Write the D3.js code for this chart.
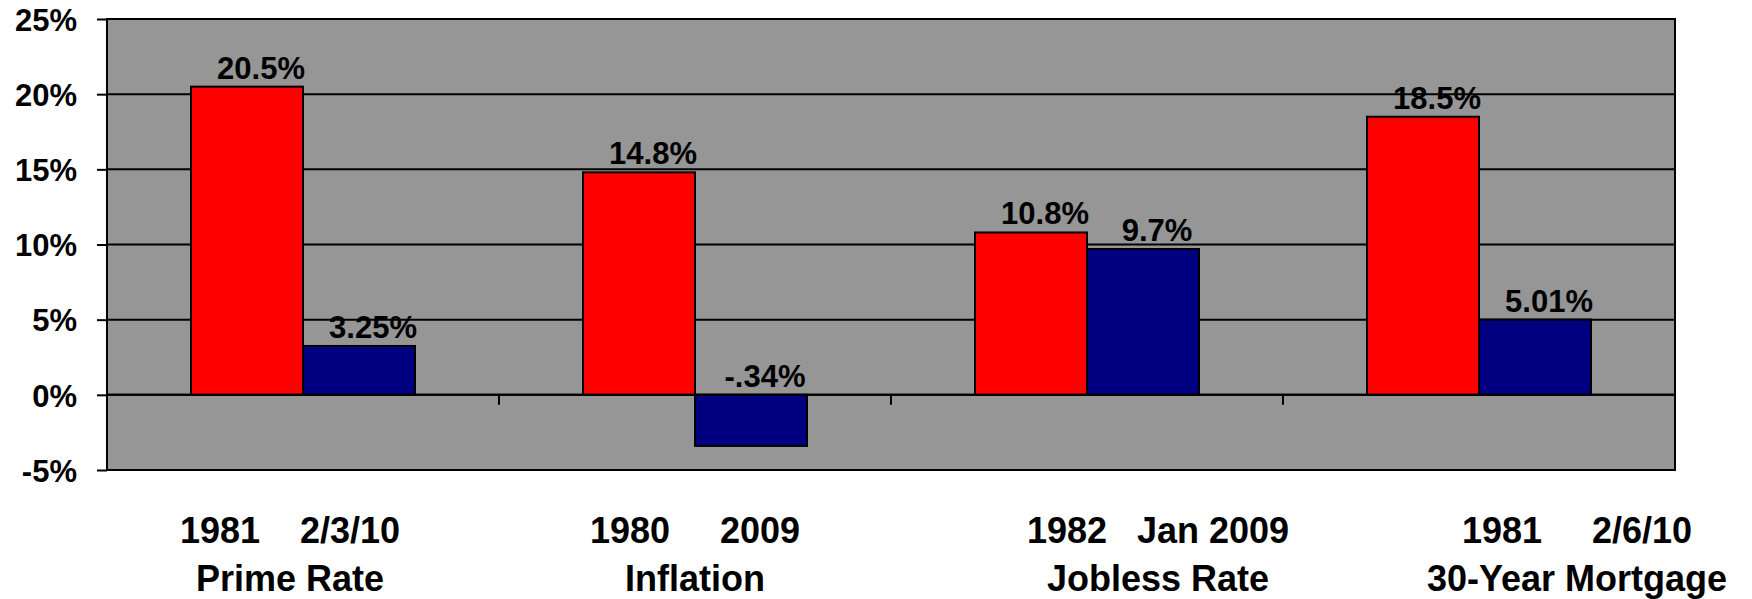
<!DOCTYPE html>
<html>
<head>
<meta charset="utf-8">
<script src="https://cdn.jsdelivr.net/npm/d3@7"></script>
<style>
    body { margin: 0; background: #fff; }
    text { font-family: "Liberation Sans", Arial, sans-serif; font-weight: bold; fill: #000; }
</style>
</head>
<body>
<svg id="chart" width="1752" height="599"></svg>
<script>
// Data
var categories = ["Prime Rate", "Inflation", "Jobless Rate", "30-Year Mortgage"];
var periods = ["1981    2/3/10", "1980     2009", "1982   Jan 2009", "1981     2/6/10"];
var series = ["then", "now"];
var thenValues = [20.5, 14.8, 10.8, 18.5];
var nowValues = [3.25, -3.4, 9.7, 5.01];
var thenLabels = ["20.5%", "14.8%", "10.8%", "18.5%"];
var nowLabels = ["3.25%", "-.34%", "9.7%", "5.01%"];
var yTicks = [-5, 0, 5, 10, 15, 20, 25];

// Set dimensions
var width = 1752,
    height = 599,
    plot = { left: 107, right: 1675, top: 19, bottom: 470 };

// category labels sit a bit off their band centres in the original
var catLabelDx = [-13, 0, 71, 98];

var colours = { then: "#ff0000", now: "#000080" };

var svg = d3.select("#chart");

// Scales
var x0 = d3.scaleBand()
    .domain(categories)
    .range([plot.left, plot.right])
    .padding(0);

var x1 = d3.scaleBand()
    .domain(series)
    .range([0, x0.bandwidth()])
    .paddingInner(0)
    .paddingOuter(0.75);

var y = d3.scaleLinear()
    .domain([-5, 25])
    .range([plot.bottom, plot.top]);

// Plot background
svg.append("rect")
    .attr("x", plot.left)
    .attr("y", plot.top)
    .attr("width", plot.right - plot.left)
    .attr("height", plot.bottom - plot.top)
    .attr("fill", "#969696");

// Gridlines
svg.append("g")
    .selectAll("line")
    .data(yTicks)
    .enter()
    .append("line")
    .attr("x1", plot.left)
    .attr("x2", plot.right)
    .attr("y1", function(d) { return y(d); })
    .attr("y2", function(d) { return y(d); })
    .attr("stroke", "#000")
    .attr("stroke-width", 2);

// Bars
var rows = categories.map(function(c, i) {
    return { cat: c, i: i, values: [
        { key: "then", value: thenValues[i], label: thenLabels[i] },
        { key: "now", value: nowValues[i], label: nowLabels[i] }
    ] };
});

var group = svg.append("g")
    .selectAll("g")
    .data(rows)
    .enter()
    .append("g")
    .attr("transform", function(d) { return "translate(" + x0(d.cat) + ",0)"; });

group.selectAll("rect")
    .data(function(d) { return d.values; })
    .enter()
    .append("rect")
    .attr("x", function(d) { return x1(d.key); })
    .attr("y", function(d) { return y(Math.max(0, d.value)); })
    .attr("width", x1.bandwidth())
    .attr("height", function(d) { return Math.abs(y(d.value) - y(0)); })
    .attr("fill", function(d) { return colours[d.key]; })
    .attr("stroke", "#000")
    .attr("stroke-width", 2);

group.selectAll("text.value")
    .data(function(d) { return d.values; })
    .enter()
    .append("text")
    .attr("class", "value")
    .attr("x", function(d) { return x1(d.key) + x1.bandwidth() / 2 + 14; })
    .attr("y", function(d) { return Math.min(y(d.value), y(0)) - 8; })
    .attr("text-anchor", "middle")
    .style("font-size", "31px")
    .text(function(d) { return d.label; });

// Zero axis with category ticks
svg.append("line")
    .attr("x1", plot.left)
    .attr("x2", plot.right)
    .attr("y1", y(0))
    .attr("y2", y(0))
    .attr("stroke", "#000")
    .attr("stroke-width", 2);

svg.append("g")
    .selectAll("line")
    .data(categories.slice(1).concat([null]))
    .enter()
    .append("line")
    .attr("x1", function(d) { return d ? x0(d) : plot.right; })
    .attr("x2", function(d) { return d ? x0(d) : plot.right; })
    .attr("y1", y(0))
    .attr("y2", y(0) + 10)
    .attr("stroke", "#000")
    .attr("stroke-width", 2);

// Plot border
svg.append("rect")
    .attr("x", plot.left)
    .attr("y", plot.top)
    .attr("width", plot.right - plot.left)
    .attr("height", plot.bottom - plot.top)
    .attr("fill", "none")
    .attr("stroke", "#000")
    .attr("stroke-width", 2);

// Y axis
var yAxis = svg.append("g")
    .attr("transform", "translate(" + plot.left + ",0)")
    .call(d3.axisLeft(y)
        .tickValues(yTicks)
        .tickSize(10)
        .tickPadding(20)
        .tickFormat(function(d) { return d + "%"; }));

yAxis.select(".domain").remove();
yAxis.selectAll(".tick line").attr("stroke", "#000").attr("stroke-width", 2);
yAxis.selectAll(".tick text")
    .attr("font-family", null)
    .style("font-size", "31px")
    .attr("dy", "0.36em");

// Category labels (two lines)
var catLabel = svg.append("g")
    .selectAll("g")
    .data(rows)
    .enter()
    .append("g")
    .attr("transform", function(d) {
        return "translate(" + (x0(d.cat) + x0.bandwidth() / 2 + catLabelDx[d.i]) + ",0)";
    });

catLabel.append("text")
    .attr("y", 543)
    .attr("text-anchor", "middle")
    .style("font-size", "36px")
    .style("white-space", "pre")
    .text(function(d) { return periods[d.i]; });

catLabel.append("text")
    .attr("y", 591)
    .attr("text-anchor", "middle")
    .style("font-size", "36px")
    .text(function(d) { return d.cat; });
</script>
</body>
</html>
